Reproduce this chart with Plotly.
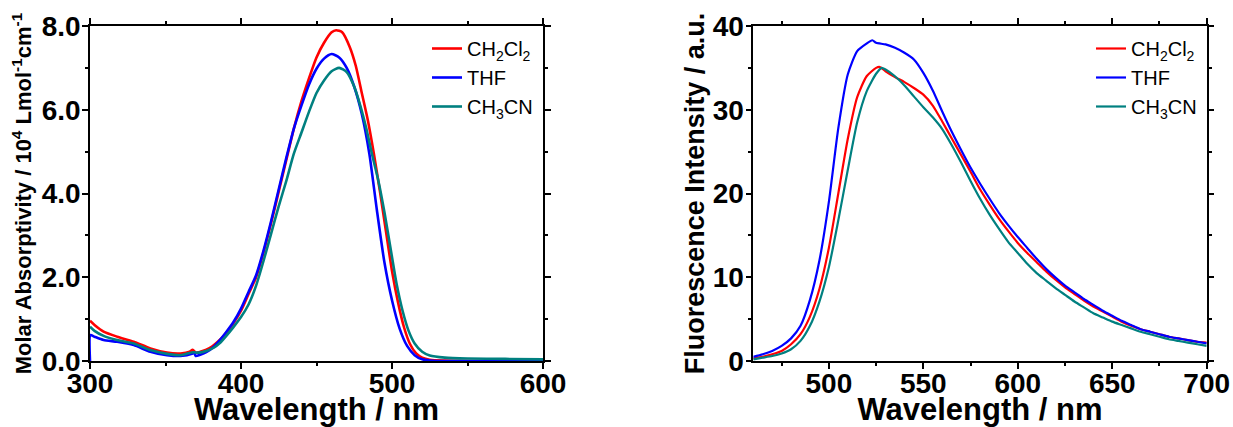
import plotly.graph_objects as go

# ---------------- Absorption spectra (left panel) ----------------
abs_wl_ch2cl2 = [300, 303, 309, 318, 329, 340, 351, 360, 366, 368, 370, 373, 377, 381, 385, 390,
                 395, 400, 405, 410, 415, 420, 425, 430, 435, 440, 445, 450, 455, 460, 463, 467,
                 472, 476, 480, 484, 488, 492, 496, 500, 504, 508, 512, 516, 520, 525, 535, 560, 600]
abs_ch2cl2 = [0.96, 0.86, 0.70, 0.58, 0.46, 0.30, 0.20, 0.18, 0.22, 0.27, 0.20, 0.22, 0.27, 0.35, 0.47, 0.66,
              0.90, 1.20, 1.60, 2.00, 2.60, 3.30, 4.05, 4.80, 5.55, 6.20, 6.75, 7.25, 7.60, 7.85, 7.90, 7.85,
              7.50, 7.05, 6.40, 5.75, 4.95, 4.05, 3.10, 2.15, 1.40, 0.80, 0.40, 0.18, 0.08, 0.03, 0.01, 0.0, 0.0]

abs_wl_thf = [300, 300.3, 303, 309, 318, 329, 340, 351, 360, 368, 369, 370, 373, 377, 382, 386, 390,
              395, 400, 405, 410, 415, 420, 425, 430, 435, 440, 445, 450, 455, 460, 465, 470,
              475, 480, 485, 490, 495, 500, 505, 510, 515, 520, 525, 530, 560, 600]
abs_thf = [0.0, 0.62, 0.58, 0.50, 0.46, 0.38, 0.22, 0.14, 0.12, 0.18, 0.20, 0.12, 0.15, 0.21, 0.34, 0.50, 0.68,
           0.93, 1.25, 1.65, 2.05, 2.65, 3.35, 4.10, 4.85, 5.55, 6.10, 6.60, 6.98, 7.22, 7.33, 7.25, 7.00,
           6.55, 5.90, 4.95, 3.60, 2.35, 1.45, 0.78, 0.36, 0.14, 0.04, 0.01, 0.0, 0.0, 0.0]

abs_wl_ch3cn = [300, 303, 309, 318, 329, 340, 351, 360, 368, 372, 377, 382, 386, 390, 395, 400,
                405, 410, 415, 420, 425, 430, 435, 440, 445, 450, 455, 460, 465, 470, 475, 479,
                483, 487, 491, 495, 499, 503, 507, 511, 515, 520, 525, 535, 550, 575, 600]
abs_ch3cn = [0.82, 0.72, 0.60, 0.50, 0.42, 0.26, 0.17, 0.14, 0.21, 0.20, 0.24, 0.32, 0.43, 0.59, 0.81, 1.05,
             1.35, 1.80, 2.40, 3.05, 3.70, 4.30, 4.95, 5.45, 5.95, 6.40, 6.70, 6.92, 7.00, 6.90, 6.55, 6.10,
             5.55, 4.90, 4.30, 3.55, 2.70, 1.85, 1.20, 0.72, 0.42, 0.22, 0.13, 0.08, 0.06, 0.05, 0.04]

# ---------------- Fluorescence spectra (right panel) ----------------
fl_wl_ch2cl2 = [460, 465, 470, 475, 480, 485, 490, 495, 500, 505, 510, 515, 520, 525, 527, 530, 535, 540,
                545, 550, 555, 560, 565, 570, 575, 580, 585, 590, 595, 600, 605, 610, 615, 620, 625, 630,
                635, 640, 645, 650, 655, 660, 665, 670, 675, 680, 685, 690, 695, 700]
fl_ch2cl2 = [0.3, 0.5, 0.8, 1.2, 2.0, 3.2, 5.3, 8.6, 13.5, 20.0, 26.5, 31.5, 34.0, 35.0, 35.1, 34.6, 33.9, 33.3,
             32.6, 31.8, 30.5, 28.6, 26.6, 24.6, 22.6, 20.5, 18.7, 17.0, 15.5, 14.1, 12.9, 11.8, 10.7, 9.7, 8.8, 8.0,
             7.2, 6.5, 5.9, 5.3, 4.7, 4.2, 3.8, 3.5, 3.2, 2.9, 2.7, 2.5, 2.3, 2.2]

fl_wl_thf = [460, 465, 470, 475, 480, 485, 490, 495, 500, 505, 510, 515, 520, 523, 525, 530, 535, 540,
             545, 550, 555, 560, 565, 570, 575, 580, 585, 590, 595, 600, 605, 610, 615, 620, 625, 630,
             635, 640, 645, 650, 655, 660, 665, 670, 675, 680, 685, 690, 695, 700]
fl_thf = [0.5, 0.8, 1.2, 1.8, 2.7, 4.2, 7.3, 12.0, 19.0, 27.8, 34.2, 37.0, 37.9, 38.3, 38.0, 37.8, 37.4, 36.8,
          36.0, 34.4, 32.3, 29.8, 27.4, 25.2, 23.1, 21.2, 19.4, 17.7, 16.2, 14.8, 13.5, 12.2, 11.0, 9.95, 9.0, 8.2,
          7.4, 6.7, 6.0, 5.4, 4.8, 4.3, 3.8, 3.5, 3.2, 2.9, 2.7, 2.5, 2.3, 2.1]

fl_wl_ch3cn = [460, 465, 470, 475, 480, 485, 490, 495, 500, 505, 510, 515, 520, 525, 528, 530, 535, 540,
               545, 550, 555, 560, 565, 570, 575, 580, 585, 590, 595, 600, 605, 610, 615, 620, 625, 630,
               635, 640, 645, 650, 655, 660, 665, 670, 675, 680, 685, 690, 695, 700]
fl_ch3cn = [0.2, 0.4, 0.6, 0.9, 1.4, 2.4, 4.2, 7.1, 11.2, 16.8, 22.8, 28.5, 32.2, 34.3, 35.0, 34.8, 34.0, 32.9,
            31.6, 30.3, 29.1, 27.7, 25.8, 23.7, 21.5, 19.4, 17.5, 15.8, 14.2, 12.9, 11.6, 10.5, 9.6, 8.7, 7.9, 7.1,
            6.4, 5.7, 5.2, 4.7, 4.3, 3.9, 3.5, 3.2, 2.9, 2.6, 2.4, 2.2, 2.0, 1.8]

names = ["CH<sub>2</sub>Cl<sub>2</sub>", "THF", "CH<sub>3</sub>CN"]
colors = ["#FF0000", "#0000FF", "#008080"]

W, H = 1233, 427
FONT = "Liberation Sans, Arial, sans-serif"

fig = go.Figure()

abs_sets = [(abs_wl_ch2cl2, abs_ch2cl2), (abs_wl_thf, abs_thf), (abs_wl_ch3cn, abs_ch3cn)]
fl_sets = [(fl_wl_ch2cl2, fl_ch2cl2), (fl_wl_thf, fl_thf), (fl_wl_ch3cn, fl_ch3cn)]

for (x, y), n, c in zip(abs_sets, names, colors):
    fig.add_trace(go.Scatter(x=x, y=y, name=n, mode="lines", xaxis="x", yaxis="y",
                             line=dict(color=c, width=2.6, shape="spline", smoothing=0.6),
                             legend="legend"))
for (x, y), n, c in zip(fl_sets, names, colors):
    fig.add_trace(go.Scatter(x=x, y=y, name=n, mode="lines", xaxis="x2", yaxis="y2",
                             line=dict(color=c, width=2.2, shape="spline", smoothing=0.6),
                             legend="legend2"))

tickfont = dict(family=FONT, size=28, color="black", weight="bold")
common_axis = dict(showline=True, linecolor="black", linewidth=1.5, mirror="ticks",
                   ticks="outside", ticklen=6, tickwidth=1.5, tickcolor="black",
                   showgrid=False, zeroline=False, tickfont=tickfont, automargin=False)
minor_style = dict(ticklen=3.5, tickwidth=1.5, tickcolor="black", ticks="outside")

ydom = [(H - 361) / H, (H - 26) / H]
xtitle_font = dict(family=FONT, size=31, color="black", weight="bold")

fig.update_layout(
    width=W, height=H,
    margin=dict(l=0, r=0, t=0, b=0),
    paper_bgcolor="white", plot_bgcolor="white",
    xaxis=dict(domain=[90 / W, 543 / W], range=[300, 600], anchor="y", tick0=300, dtick=100,
               minor=dict(dtick=50, **minor_style), ticklabelstandoff=-9,
               title=dict(text="Wavelength / nm", standoff=12, font=xtitle_font),
               **common_axis),
    yaxis=dict(domain=ydom, range=[0, 8], anchor="x", tick0=0, dtick=2, tickformat=".1f",
               minor=dict(dtick=1, **minor_style), ticklabelstandoff=-4,
               title=dict(text="Molar Absorptivity / 10<sup>4</sup> Lmol<sup>-1</sup>cm<sup>-1</sup>",
                          standoff=4, font=dict(family=FONT, size=22, color="black", weight="bold")),
               **common_axis),
    xaxis2=dict(domain=[753.3 / W, 1206.7 / W], range=[460, 700], anchor="y2", tick0=500, dtick=50,
                minor=dict(dtick=25, tick0=500, **minor_style), ticklabelstandoff=-9,
                title=dict(text="Wavelength / nm", standoff=12, font=xtitle_font),
                **common_axis),
    yaxis2=dict(domain=ydom, range=[0, 40], anchor="x2", tick0=0, dtick=10,
                minor=dict(dtick=5, **minor_style), ticklabelstandoff=-4,
                title=dict(text="Fluorescence Intensity / a.u.", standoff=0,
                           font=dict(family=FONT, size=27, color="black", weight="bold")),
                **common_axis),
    legend=dict(x=427 / W, y=1 - 29 / H, xanchor="left", yanchor="top",
                bgcolor="rgba(0,0,0,0)", borderwidth=0, tracegroupgap=0,
                font=dict(family=FONT, size=20, color="black")),
    legend2=dict(x=1091 / W, y=1 - 29 / H, xanchor="left", yanchor="top",
                 bgcolor="rgba(0,0,0,0)", borderwidth=0, tracegroupgap=0,
                 font=dict(family=FONT, size=20, color="black")),
    showlegend=True,
)

fig.write_html("out.html", config={"displayModeBar": False},
               post_script="document.body.style.margin='0';")
